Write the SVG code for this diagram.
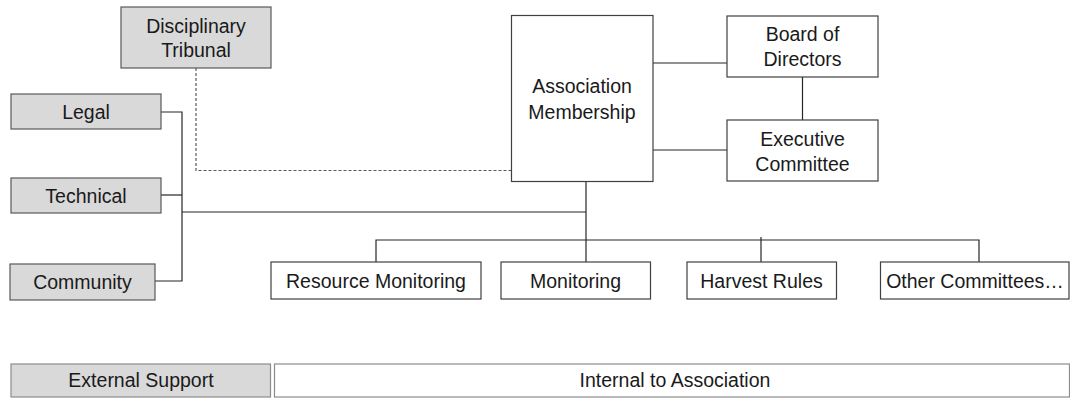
<svg xmlns="http://www.w3.org/2000/svg" width="1070" height="398" viewBox="0 0 1070 398">
<style>
.g{fill:#d9d9d9;stroke:#595959;stroke-width:1.2}
.w{fill:#fff;stroke:#404040;stroke-width:1.2}
.b{fill:#fff;stroke:#8c8c8c;stroke-width:1.2}
.gb{fill:#d9d9d9;stroke:#8c8c8c;stroke-width:1.2}
text{font-family:"Liberation Sans",Arial,sans-serif;font-size:19.5px;fill:#1a1a1a;text-anchor:middle}
.c line,.c polyline{stroke:#262626;stroke-width:1.2;fill:none}
.c .d{stroke:#595959;stroke-dasharray:3,2}
</style>
<rect width="1070" height="398" fill="#fff"/>
<g class="c" id="connectors">
<polyline class="d" points="196,68 196,170.5 511.5,170.5"/>
<polyline points="161,112 182,112 182,281 155,281"/>
<line x1="161" y1="195" x2="182" y2="195"/>
<line x1="182" y1="212" x2="586" y2="212"/>
<line x1="586" y1="181.5" x2="586" y2="262"/>
<polyline points="376,262 376,240 979,240 979,262"/>
<line x1="761" y1="237" x2="761" y2="262"/>
<line x1="651" y1="63" x2="727" y2="63"/>
<line x1="651" y1="150" x2="727" y2="150"/>
<line x1="802.5" y1="77" x2="802.5" y2="120"/>
</g>
<g id="tribunal"><rect class="g" x="121" y="7" width="150" height="61"/><text x="196" y="33">Disciplinary</text><text x="196" y="57">Tribunal</text></g>
<g id="legal"><rect class="g" x="11" y="94" width="150" height="35"/><text x="86" y="118.5">Legal</text></g>
<g id="technical"><rect class="g" x="11" y="178" width="150" height="35"/><text x="86" y="202.5">Technical</text></g>
<g id="community"><rect class="g" x="10" y="264" width="145" height="36"/><text x="82.5" y="289">Community</text></g>
<g id="membership"><rect class="w" x="511.5" y="15.5" width="141.5" height="166"/><text x="582" y="93">Association</text><text x="582" y="118.5">Membership</text></g>
<g id="board"><rect class="w" x="727" y="16" width="151" height="61"/><text x="802.5" y="40.5">Board of</text><text x="802.5" y="66">Directors</text></g>
<g id="executive"><rect class="w" x="727" y="120" width="151" height="61"/><text x="802.5" y="145.5">Executive</text><text x="802.5" y="170.5">Committee</text></g>
<g id="resource"><rect class="w" x="271" y="262" width="210" height="37"/><text x="376" y="287.5">Resource Monitoring</text></g>
<g id="monitoring"><rect class="w" x="501" y="262" width="149.5" height="37"/><text x="575.5" y="287.5">Monitoring</text></g>
<g id="harvest"><rect class="w" x="687" y="262" width="149.5" height="37"/><text x="761.5" y="287.5">Harvest Rules</text></g>
<g id="other"><rect class="w" x="880.5" y="262" width="188.5" height="37"/><text x="975" y="287.5">Other Committees…</text></g>
<g id="external"><rect class="gb" x="11" y="364" width="259.5" height="33"/><text x="141" y="387">External Support</text></g>
<g id="internal"><rect class="b" x="274.5" y="364" width="795" height="33"/><text x="675" y="387">Internal to Association</text></g>
</svg>
